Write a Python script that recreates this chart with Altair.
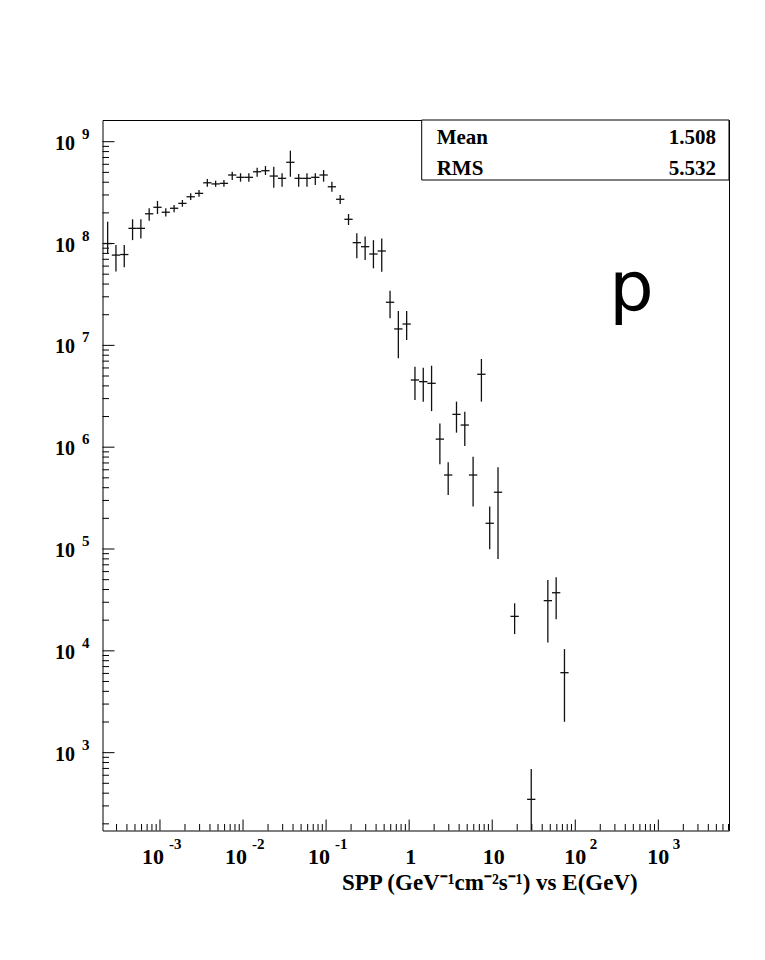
import altair as alt
import pandas as pd

# ---------------- data ----------------
LOG_E_MIN = -3.68   # low edge of histogram bin 0, log10(E/GeV)
LOG_BIN_W = 0.1     # bin width in decades

bins = [0, 1, 2, 3, 4, 5, 6, 7, 8, 9, 10, 11, 12, 13, 14, 15, 16, 17, 18, 19,
        20, 21, 22, 23, 24, 25, 26, 27, 28, 29, 30, 31, 32, 33, 34, 35, 36, 37,
        38, 39, 40, 41, 42, 43, 44, 45, 46, 47, 49, 51, 53, 54, 55]
vals = [1.00e8, 7.7e7, 7.8e7, 1.41e8, 1.41e8, 1.96e8, 2.27e8, 2.03e8, 2.22e8, 2.48e8,
        2.88e8, 3.11e8, 3.95e8, 3.85e8, 3.90e8, 4.71e8, 4.47e8, 4.47e8, 5.07e8, 5.19e8,
        4.60e8, 4.37e8, 6.28e8, 4.37e8, 4.37e8, 4.47e8, 4.71e8, 3.61e8, 2.72e8, 1.73e8,
        1.02e8, 9.31e7, 7.89e7, 8.45e7, 2.65e7, 1.45e7, 1.62e7, 4.57e6, 4.40e6, 4.24e6,
        1.20e6, 5.33e5, 2.10e6, 1.65e6, 5.33e5, 5.20e6, 1.79e5, 3.61e5, 2.18e4, 348,
        3.11e4, 3.72e4, 6.10e3]
lows = [8.0e7, 5.3e7, 5.85e7, 1.08e8, 1.12e8, 1.67e8, 1.95e8, 1.84e8, 2.03e8, 2.30e8,
        2.67e8, 2.88e8, 3.61e8, 3.61e8, 3.61e8, 4.21e8, 4.05e8, 4.05e8, 4.53e8, 4.71e8,
        3.53e8, 3.61e8, 4.53e8, 3.61e8, 3.61e8, 3.76e8, 4.05e8, 3.23e8, 2.44e8, 1.52e8,
        7.16e7, 6.89e7, 5.71e7, 5.28e7, 1.85e7, 7.46e6, 1.13e7, 2.90e6, 2.80e6, 2.26e6,
        6.79e5, 3.39e5, 1.39e6, 1.03e6, 2.61e5, 2.80e6, 9.93e4, 7.98e4, 1.46e4, 173,
        1.21e4, 2.04e4, 2.01e3]
highs = [1.64e8, 9.7e7, 9.7e7, 1.73e8, 1.73e8, 2.22e8, 2.62e8, 2.22e8, 2.39e8, 2.68e8,
         3.11e8, 3.36e8, 4.31e8, 4.14e8, 4.21e8, 5.07e8, 4.90e8, 4.90e8, 5.56e8, 5.77e8,
         5.68e8, 4.90e8, 8.17e8, 4.82e8, 4.90e8, 4.90e8, 5.27e8, 4.05e8, 3.00e8, 1.95e8,
         1.26e8, 1.17e8, 1.08e8, 1.12e8, 3.44e7, 2.17e7, 2.17e7, 6.17e6, 6.04e6, 6.31e6,
         1.71e6, 7.11e5, 2.80e6, 2.23e6, 8.07e5, 7.35e6, 2.61e5, 6.34e5, 2.93e4, 692,
         4.97e4, 5.27e4, 1.04e4]

stat_names = ["Mean", "RMS"]
stat_values = ["1.508", "5.532"]

y_label_exps = [3, 4, 5, 6, 7, 8, 9]
x_label_neg = [-3, -2, -1]
x_label_pos = [2, 3]
x_label_plain = [(1, "1"), (10, "10")]

title_text = "SPP (GeV\u207b\u00b9cm\u207b\u00b2s\u207b\u00b9) vs E(GeV)"
panel_label = "p"

# ---------------- scales / layout ----------------
X_DOMAIN = [10 ** -3.692, 10 ** 3.851]
Y_DOMAIN = [172, 1.634e9]
W, H = 626.5, 710.5
SERIF = "Liberation Serif"

xs = alt.Scale(type="log", domain=X_DOMAIN, nice=False)
ys = alt.Scale(type="log", domain=Y_DOMAIN, nice=False)

df = pd.DataFrame({"bin": bins, "val": vals, "lo": lows, "hi": highs})

base = alt.Chart(df).transform_calculate(
    xlo=f"pow(10, {LOG_E_MIN} + datum.bin * {LOG_BIN_W})",
    xhi=f"pow(10, {LOG_E_MIN} + (datum.bin + 1) * {LOG_BIN_W})",
    xc=f"pow(10, {LOG_E_MIN} + (datum.bin + 0.5) * {LOG_BIN_W})",
)
hbar = base.mark_rule(color="#111", strokeWidth=1.3).encode(
    x=alt.X("xlo:Q", scale=xs, axis=None),
    x2="xhi:Q",
    y=alt.Y("val:Q", scale=ys, axis=None),
)
vbar = base.mark_rule(color="#111", strokeWidth=1.3).encode(
    x=alt.X("xc:Q", scale=xs, axis=None),
    y=alt.Y("lo:Q", scale=ys, axis=None),
    y2="hi:Q",
)

# ---------------- ticks (inside the frame, ROOT style) ----------------
def in_dom(v, d):
    return d[0] <= v <= d[1]

y_major = [10.0 ** e for e in y_label_exps]
y_minor = [m * 10.0 ** e for e in range(2, 10) for m in range(2, 10)
           if in_dom(m * 10.0 ** e, Y_DOMAIN)]
x_major = [10.0 ** e for e in range(-3, 4)]
x_minor = [m * 10.0 ** e for e in range(-4, 4) for m in range(2, 10)
           if in_dom(m * 10.0 ** e, X_DOMAIN)]

def ytick(vals_, length):
    return alt.Chart(pd.DataFrame({"t": vals_})).mark_rule(color="black", strokeWidth=1).encode(
        y=alt.Y("t:Q", scale=ys, axis=None), x=alt.value(0), x2=alt.value(length))

def xtick(vals_, length):
    return alt.Chart(pd.DataFrame({"t": vals_})).mark_rule(color="black", strokeWidth=1).encode(
        x=alt.X("t:Q", scale=xs, axis=None), y=alt.value(H), y2=alt.value(H - length))

ticks = [ytick(y_major, 12), ytick(y_minor, 6.5), xtick(x_major, 11), xtick(x_minor, 6.5)]

# ---------------- tick labels ----------------
ylab_df = pd.DataFrame({"t": [10.0 ** e for e in y_label_exps],
                        "base": ["10"] * len(y_label_exps),
                        "sup": [str(e) for e in y_label_exps]})
ylab_base = alt.Chart(ylab_df).mark_text(
    font=SERIF, fontWeight="bold", fontSize=20, align="right", baseline="alphabetic", dy=8
).encode(y=alt.Y("t:Q", scale=ys, axis=None), x=alt.value(-27.5), text="base:N")
ylab_sup = alt.Chart(ylab_df).mark_text(
    font=SERIF, fontWeight="bold", fontSize=15, align="left", baseline="alphabetic", dy=-3
).encode(y=alt.Y("t:Q", scale=ys, axis=None), x=alt.value(-20.5), text="sup:N")

def xlabels(exps, base_dx, sup_dx):
    d = pd.DataFrame({"t": [10.0 ** e for e in exps], "base": ["10"] * len(exps),
                      "sup": [str(e) for e in exps]})
    b = alt.Chart(d).mark_text(
        font=SERIF, fontWeight="bold", fontSize=22, align="right", baseline="alphabetic", dx=base_dx
    ).encode(x=alt.X("t:Q", scale=xs, axis=None), y=alt.value(744), text="base:N")
    s = alt.Chart(d).mark_text(
        font=SERIF, fontWeight="bold", fontSize=15, align="left", baseline="alphabetic", dx=sup_dx
    ).encode(x=alt.X("t:Q", scale=xs, axis=None), y=alt.value(728.5), text="sup:N")
    return [b, s]

plain_df = pd.DataFrame({"t": [p[0] for p in x_label_plain], "lab": [p[1] for p in x_label_plain]})
xlab_plain = alt.Chart(plain_df).mark_text(
    font=SERIF, fontWeight="bold", fontSize=22, align="center", baseline="alphabetic", dx=1.5
).encode(x=alt.X("t:Q", scale=xs, axis=None), y=alt.value(744), text="lab:N")

xlabs = xlabels(x_label_neg, 4, 9) + xlabels(x_label_pos, 11, 14.5) + [xlab_plain]

# ---------------- axis title ----------------
title_df = pd.DataFrame({"txt": [title_text]})
title = alt.Chart(title_df).mark_text(
    font=SERIF, fontWeight="bold", fontSize=23, align="right", baseline="alphabetic"
).encode(x=alt.value(535.2), y=alt.value(769.6), text="txt:N")

# ---------------- stats box ----------------
box_df = pd.DataFrame({"a": [0]})
box = alt.Chart(box_df).mark_rect(fill="white", stroke="black", strokeWidth=1).encode(
    x=alt.value(319.2), x2=alt.value(W), y=alt.value(0), y2=alt.value(60))

stat_layers = []
for i, row_y in enumerate([24, 55]):
    sdf = pd.DataFrame({"name": [stat_names[i]], "value": [stat_values[i]]})
    stat_layers.append(alt.Chart(sdf).mark_text(
        font=SERIF, fontWeight="bold", fontSize=21, align="left", baseline="alphabetic"
    ).encode(x=alt.value(334.2), y=alt.value(row_y), text="name:N"))
    stat_layers.append(alt.Chart(sdf).mark_text(
        font=SERIF, fontWeight="bold", fontSize=21, align="right", baseline="alphabetic"
    ).encode(x=alt.value(613.5), y=alt.value(row_y), text="value:N"))

# ---------------- panel label ----------------
plab = alt.Chart(pd.DataFrame({"txt": [panel_label]})).mark_text(
    font="DejaVu Sans", fontSize=70, align="center", baseline="alphabetic", color="black"
).encode(x=alt.value(529), y=alt.value(191), text="txt:N")

chart = alt.layer(
    *ticks, hbar, vbar, ylab_base, ylab_sup, *xlabs, title, box, *stat_layers, plab
).properties(
    width=W, height=H,
    autosize=alt.AutoSizeParams(type="none"),
    padding={"left": 94.5, "top": 112, "right": 16, "bottom": 110},
    background="white",
).configure_view(stroke="black", strokeWidth=1)

chart.save("out.html", embed_options={"renderer": "svg", "actions": False})
